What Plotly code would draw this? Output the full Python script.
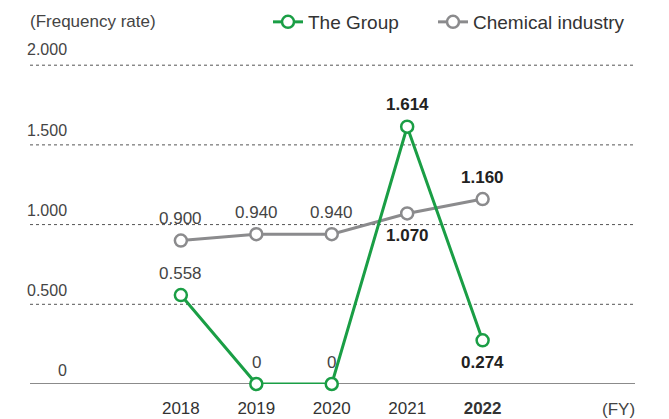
import plotly.graph_objects as go

years = ["2018", "2019", "2020", "2021", "2022"]
group_vals = [0.558, 0, 0, 1.614, 0.274]
chem_vals = [0.900, 0.940, 0.940, 1.070, 1.160]
group_labels = ["0.558", "0", "0", "1.614", "0.274"]
chem_labels = ["0.900", "0.940", "0.940", "1.070", "1.160"]
y_ticks = [0, 0.5, 1.0, 1.5, 2.0]
y_tick_text = ["0", "0.500", "1.000", "1.500", "2.000"]

GREEN = "#1a9e45"
GRAY = "#8b8b8d"
FONT = "Liberation Sans, Arial, sans-serif"

xs = list(range(len(years)))

W, H = 669, 419
ML, MR, MT, MB = 30, 34, 62, 35
pw, ph = W - ML - MR, H - MT - MB


def px_x(p):
    return (p - ML) / pw


def px_y(p):
    return (H - MB - p) / ph


fig = go.Figure()
fig.add_trace(go.Scatter(
    x=xs, y=chem_vals, name="Chemical industry", mode="lines+markers",
    line=dict(color=GRAY, width=3),
    marker=dict(symbol="circle", size=12, color="white", line=dict(color=GRAY, width=2.5)),
    cliponaxis=False, legend="legend2",
))
fig.add_trace(go.Scatter(
    x=xs, y=group_vals, name="The Group", mode="lines+markers",
    line=dict(color=GREEN, width=3),
    marker=dict(symbol="circle", size=12, color="white", line=dict(color=GREEN, width=2.5)),
    cliponaxis=False, legend="legend",
))

# gridlines (styling)
shapes = []
for v in y_ticks:
    if v == 0:
        shapes.append(dict(type="line", xref="paper", x0=0, x1=1, yref="y", y0=v, y1=v,
                           line=dict(color="#8b8b8b", width=2), layer="below"))
    else:
        shapes.append(dict(type="line", xref="paper", x0=0, x1=1, yref="y", y0=v, y1=v,
                           line=dict(color="#555", width=1, dash="dot"), layer="below"))

annotations = []
group_pos = [1, 1, 1, 1, -1]
chem_pos = [1, 1, 1, -1, 1]
bold = [False, False, False, True, True]
for i in xs:
    for vals, labs, pos in ((group_vals, group_labels, group_pos), (chem_vals, chem_labels, chem_pos)):
        b = bold[i]
        annotations.append(dict(
            x=i, y=vals[i], xref="x", yref="y",
            text=("<b>%s</b>" % labs[i]) if b else labs[i],
            showarrow=False, yshift=22 * pos[i],
            font=dict(family=FONT, size=17, color="#222" if b else "#444"),
        ))

for v, t in zip(y_ticks, y_tick_text):
    annotations.append(dict(
        x=px_x(69), xref="paper", y=v, yref="y", text=t, showarrow=False,
        xanchor="right", yanchor="middle", yshift=14 if v < 2 else 16,
        font=dict(family=FONT, size=16, color="#444"),
    ))

annotations.append(dict(
    x=px_x(28), y=px_y(22), xref="paper", yref="paper", text="(Frequency rate)", showarrow=False,
    xanchor="left", yanchor="middle", font=dict(family=FONT, size=17, color="#444"),
))
annotations.append(dict(
    x=px_x(637), y=px_y(409), xref="paper", yref="paper", text="(FY)", showarrow=False,
    xanchor="right", yanchor="middle", font=dict(family=FONT, size=17, color="#444"),
))

tick_text = [("<b>%s</b>" % y) if i == len(years) - 1 else y for i, y in enumerate(years)]

legend_style = dict(
    orientation="h", xanchor="left", y=px_y(22), yanchor="middle",
    font=dict(family=FONT, size=19, color="#333"), bgcolor="rgba(0,0,0,0)",
)

fig.update_layout(
    width=W, height=H,
    margin=dict(l=ML, r=MR, t=MT, b=MB, autoexpand=False),
    paper_bgcolor="white", plot_bgcolor="white",
    font=dict(family=FONT, color="#444"),
    showlegend=True,
    legend=dict(x=px_x(268), **legend_style),
    legend2=dict(x=px_x(433), **legend_style),
    xaxis=dict(
        range=[-2, 6.02], tickvals=xs, ticktext=tick_text,
        showgrid=False, zeroline=False, showline=False, ticks="",
        tickfont=dict(family=FONT, size=17, color="#333"),
        ticklabelstandoff=12,
    ),
    yaxis=dict(
        range=[0, 2.02], tickvals=y_ticks, showticklabels=False,
        showgrid=False, zeroline=False, showline=False, ticks="",
    ),
    shapes=shapes,
    annotations=annotations,
)

fig.write_html(
    "out.html",
    config={"displayModeBar": False},
    post_script="document.body.style.margin='0';document.body.style.padding='0';",
)
